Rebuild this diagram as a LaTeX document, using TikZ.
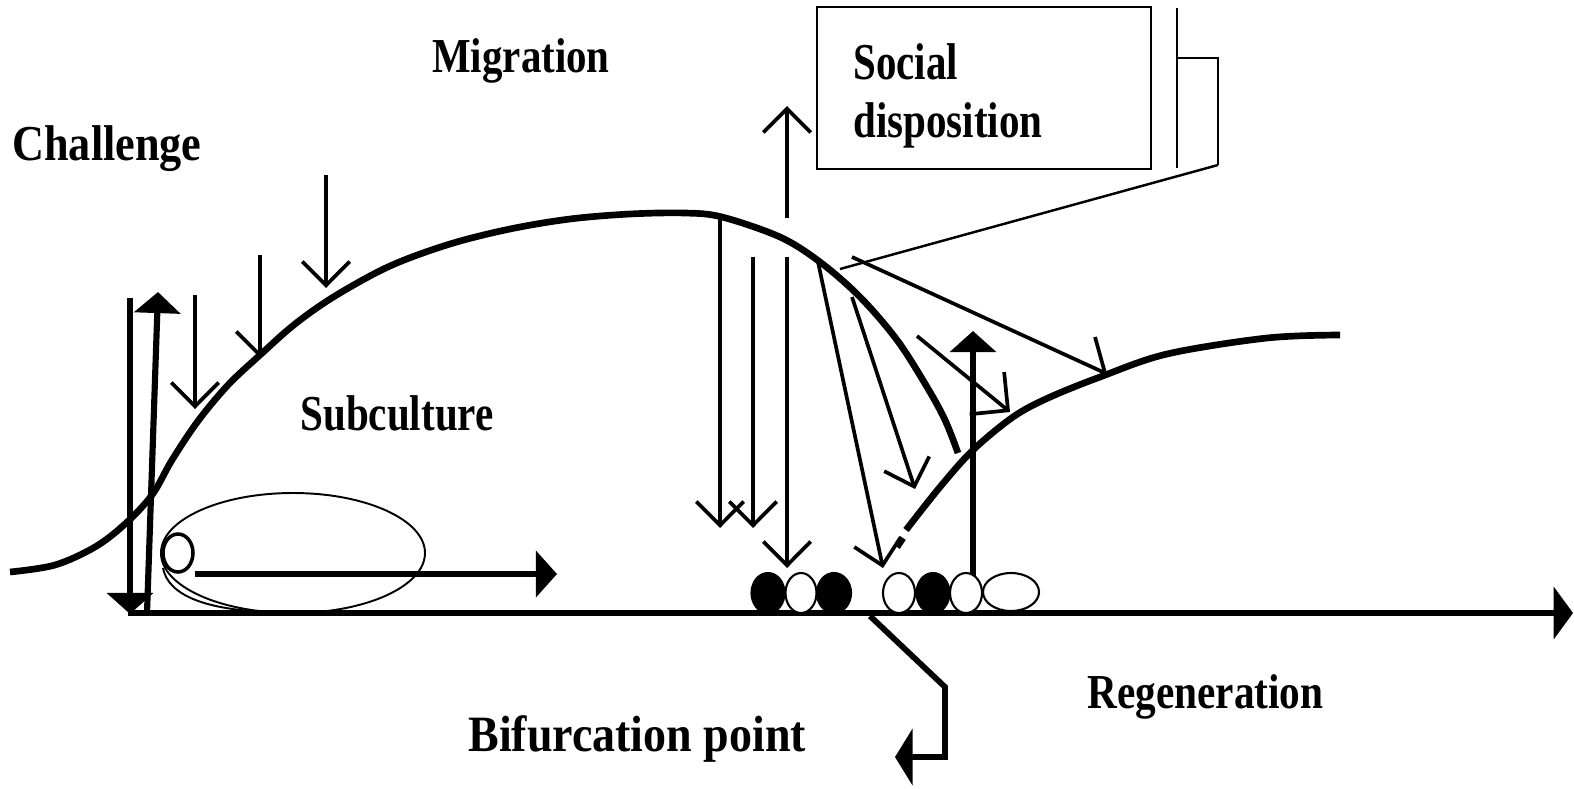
\documentclass[tikz,border=0pt]{standalone}
\usepackage{fontspec}
\setmainfont{Liberation Serif}
\usepackage{graphicx}
\usetikzlibrary{arrows.meta}
\newdimen\pxu
\pxu=0.56693pt
\newcommand\lbltxt[3]{\resizebox{#1\pxu}{#2\pxu}{\bfseries #3}}
\begin{document}
\begin{tikzpicture}[x=0.02cm,y=-0.02cm,
  thickcurve/.style={line width=3.8pt},
  thinarrow/.style={line width=2.1pt,-{Straight Barb[length=13.6pt,width=27pt]}},
  bigbarb/.style={line width=2.1pt,-{Straight Barb[length=15.5pt,width=31pt]}},
  thickarrow/.style={line width=3.5pt,-{Triangle[length=12pt,width=26pt]}},
  axisline/.style={line width=3.2pt,-{Triangle[length=11pt,width=29.5pt]}},
  thinline/.style={line width=1.4pt},
  midline/.style={line width=2.1pt},
  boxline/.style={line width=1.6pt},
  oval/.style={line width=1.1pt},
  ballw/.style={line width=1.2pt,fill=white},
  ballb/.style={line width=1.2pt,fill=black},
  lbl/.style={inner sep=0pt,anchor=base west}
]
\useasboundingbox (0,0) rectangle (1574,788);

% labels
\node[lbl] (challenge) at (12,160) {\lbltxt{190}{35}{Challenge}};
\node[lbl] (migration) at (432,72) {\lbltxt{178}{34}{Migration}};
\node[lbl] (social) at (853,79) {\lbltxt{105}{36}{Social}};
\node[lbl] (disposition) at (853,137) {\lbltxt{190}{35}{disposition}};
\node[lbl] (subculture) at (300,430) {\lbltxt{194}{35}{Subculture}};
\node[lbl] (regeneration) at (1087,708) {\lbltxt{237}{34}{Regeneration}};
\node[lbl] (bifurcation) at (468,751) {\lbltxt{339}{36}{Bifurcation point}};

% social disposition box and bracket
\draw[boxline] (817,7) rectangle (1151,169);
\coordinate (brA) at (1177,8);
\coordinate (brB) at (1177,168);
\coordinate (brC) at (1218,58);
\coordinate (brD) at (1218,165);
\coordinate (brE) at (840,269);
\draw[boxline] (brA) -- (brB);
\draw[boxline] (1177,58) -- (brC) -- (brD);
\draw[thinline] (brD) -- (brE);

% main curve
\draw[thickcurve] plot[smooth,tension=0.55] coordinates {
(10,572) (55,565) (95,547) (125,524) (152,495) (172,460) (198,421) (228,385)
(260,355) (295,324) (335,296) (390,266) (450,244) (510,229) (570,219) (630,214)
(685,213) (722,217) (780,237) (820,262) (860,297) (897,340) (927,387) (945,420) (958,453)};

% regeneration curve
\draw[thickcurve] (897,547) -- (903,538);
\draw[thickcurve] plot[smooth,tension=0.55] coordinates {
(906,530) (940,487) (973,450) (1013,417) (1048,398) (1100,377) (1167,354) (1267,338) (1340,335)};

% horizontal axis
\coordinate (ax0) at (128,613);
\coordinate (ax1) at (1573,613);
\draw[axisline] (ax0) -- (ax1);

% left thick arrows
\draw[thickarrow] (130,298) -- (130,614);
\draw[thickarrow] (147,613) -- (158,292);

% challenge arrows
\draw[thinarrow] (195,295) -- (195,409);
\draw[thinarrow] (260,255) -- (260,358);
\draw[thinarrow] (326,175) -- (326,288);

% subculture ellipse and ball
\draw[oval] (293,553) ellipse [x radius=132, y radius=60];
\draw[oval] (163,568) .. controls (168,595) and (205,610) .. (270,612);
\draw[line width=2pt,fill=white] (178,553) ellipse [x radius=15, y radius=19];
\draw[thickarrow] (195,574) -- (557,574);

% migration arrow
\draw[thinarrow] (787,218) -- (787,106);

% vertical arrows from the summit
\draw[thinarrow] (720,217) -- (720,528);
\draw[thinarrow] (753,257) -- (753,528);
\draw[thinarrow] (787,257) -- (787,568);

% diagonal arrows
\draw[thinarrow] (818,262) -- (883,568);
\draw[thinarrow] (852,297) -- (915,489);

% line to regeneration curve with tick
\draw[midline] (852,257) -- (1105,373);
\draw[midline] (1095,337) -- (1105,373);

% short arrow
\draw[bigbarb] (917,336) -- (1010,412);

% thick up arrow
\draw[thickarrow] (973,612) -- (973,331);

% balls on the axis
\draw[ballb] (768,593) ellipse [x radius=16.5, y radius=20];
\draw[ballw] (801,593) ellipse [x radius=15.5, y radius=20];
\draw[ballb] (834,593) ellipse [x radius=17, y radius=20];
\draw[ballw] (899,593) ellipse [x radius=16, y radius=20];
\draw[ballb] (933,593) ellipse [x radius=16.5, y radius=20];
\draw[ballw] (966,593) ellipse [x radius=16, y radius=20];
\draw[ballw] (1011,592) ellipse [x radius=28, y radius=19];

% bifurcation connector
\coordinate (bf0) at (870,616);
\coordinate (bf1) at (945,687);
\coordinate (bf2) at (945,757);
\coordinate (bf3) at (895,757);
\draw[line width=3.3pt,-{Triangle[length=10pt,width=32pt]}] (bf0) -- (bf1) -- (bf2) -- (bf3);
\end{tikzpicture}
\end{document}
